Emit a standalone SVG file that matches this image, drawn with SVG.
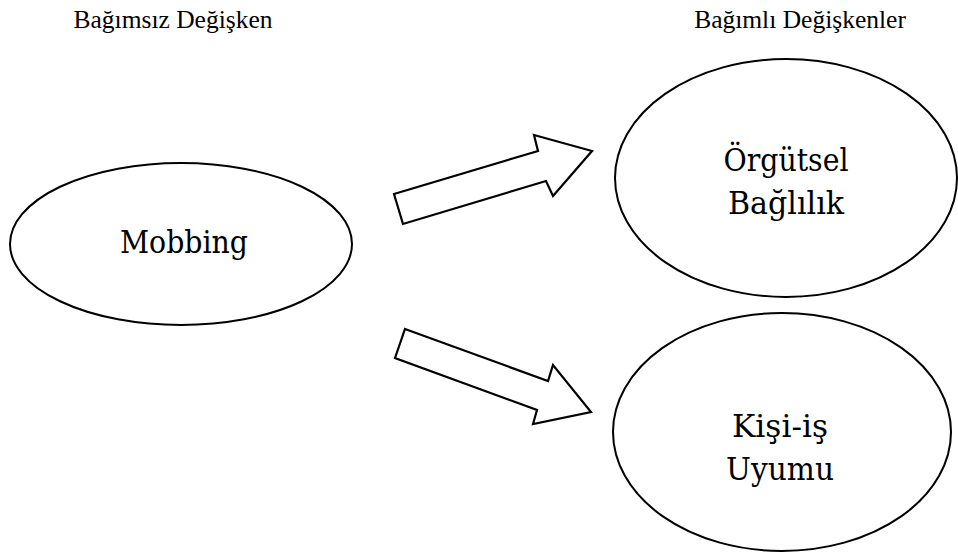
<svg xmlns="http://www.w3.org/2000/svg" width="958" height="558" viewBox="0 0 958 558">
<style>
.node{fill:#fff;stroke:#000;stroke-width:2}
.arrow{fill:#fff;stroke:#000;stroke-width:2.2;stroke-linejoin:miter}
text{font-family:'Times New Roman','DejaVu Serif',serif;fill:#000;text-anchor:middle}
.hdr{font-size:25.5px}
.dj{font-family:'DejaVu Serif',serif;font-size:32px}
</style>
<rect width="958" height="558" fill="#fff"/>
<text class="hdr" x="173" y="28">Bağımsız Değişken</text>
<text class="hdr" x="800" y="28">Bağımlı Değişkenler</text>
<g id="mobbing">
<ellipse class="node" cx="181" cy="244" rx="171" ry="81"/>
<text class="dj" x="184" y="253" textLength="128" lengthAdjust="spacingAndGlyphs">Mobbing</text>
</g>
<g id="orgutsel">
<ellipse class="node" cx="786" cy="178" rx="171" ry="119"/>
<text class="dj" x="786" y="171" textLength="125" lengthAdjust="spacingAndGlyphs">Örgütsel</text>
<text class="dj" x="786" y="214" textLength="116" lengthAdjust="spacingAndGlyphs">Bağlılık</text>
</g>
<g id="kisi-is">
<ellipse class="node" cx="782" cy="432" rx="169" ry="119"/>
<text class="dj" x="780" y="437" textLength="96" lengthAdjust="spacingAndGlyphs">Kişi-iş</text>
<text class="dj" x="780" y="480" textLength="108" lengthAdjust="spacingAndGlyphs">Uyumu</text>
</g>
<g id="connectors">
<polygon class="arrow" points="394,194 538,151 534,135 592,151 553,196 546,181 403,224"/>
<polygon class="arrow" points="405,329 548,381 553,365 591,412 533,424 537,410 395,358"/>
</g>
</svg>
